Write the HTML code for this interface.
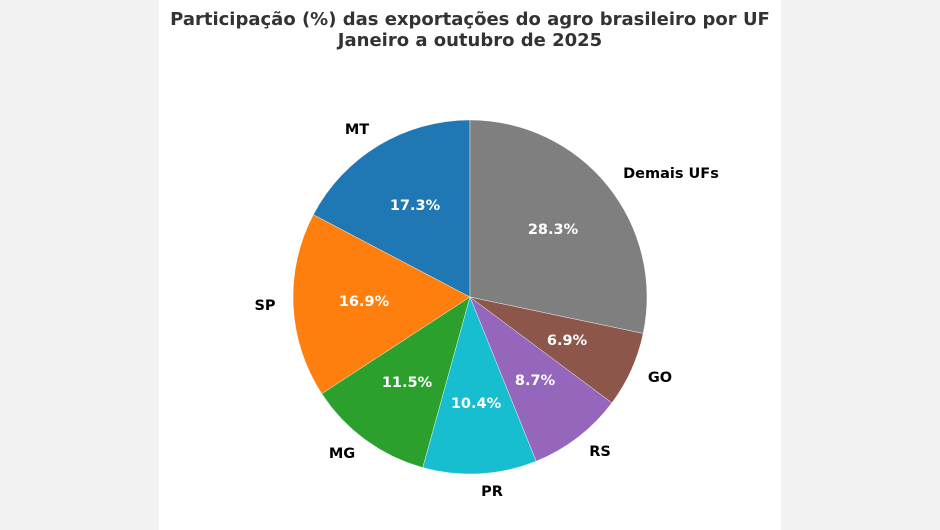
<!DOCTYPE html>
<html><head><meta charset="utf-8"><style>
html,body{margin:0;padding:0;background:#f2f2f2;}
svg{display:block;}
text{font-family:"DejaVu Sans","Liberation Sans",sans-serif;font-weight:bold;}
</style></head><body>
<svg width="940" height="530" viewBox="0 0 940 530" xmlns="http://www.w3.org/2000/svg">
<rect x="0" y="0" width="940" height="530" fill="#f2f2f2"/>
<rect x="159" y="0" width="622" height="530" fill="#ffffff"/>
<text x="470" y="25" text-anchor="middle" font-size="18" fill="#333333">Participação (%) das exportações do agro brasileiro por UF</text>
<text x="470" y="46" text-anchor="middle" font-size="18" fill="#333333">Janeiro a outubro de 2025</text>
<g stroke="#ffffff" stroke-width="0.4" stroke-linejoin="round">
<path d="M470,297 L470,120 A177,177 0 0 0 313.3,214.7 Z" fill="#1f77b4"/>
<path d="M470,297 L313.3,214.7 A177,177 0 0 0 321.8,393.7 Z" fill="#ff7f0e"/>
<path d="M470,297 L321.8,393.7 A177,177 0 0 0 422.8,467.6 Z" fill="#2ca02c"/>
<path d="M470,297 L422.8,467.6 A177,177 0 0 0 536.2,461.2 Z" fill="#17becf"/>
<path d="M470,297 L536.2,461.2 A177,177 0 0 0 611.9,402.8 Z" fill="#9467bd"/>
<path d="M470,297 L611.9,402.8 A177,177 0 0 0 643.2,333.4 Z" fill="#8c564b"/>
<path d="M470,297 L643.2,333.4 A177,177 0 0 0 470,120 Z" fill="#7f7f7f"/>
</g>
<g font-size="14.5" fill="#ffffff" text-anchor="middle">
<text x="415" y="210">17.3%</text>
<text x="364" y="306">16.9%</text>
<text x="407" y="387">11.5%</text>
<text x="476" y="408">10.4%</text>
<text x="535" y="385">8.7%</text>
<text x="567" y="345">6.9%</text>
<text x="553" y="234">28.3%</text>
</g>
<g font-size="14.5" fill="#000000" text-anchor="middle">
<text x="357" y="134">MT</text>
<text x="265" y="310">SP</text>
<text x="342" y="458">MG</text>
<text x="492" y="496">PR</text>
<text x="600" y="456">RS</text>
<text x="660" y="382">GO</text>
<text x="671" y="178">Demais UFs</text>
</g>
</svg>
</body></html>
